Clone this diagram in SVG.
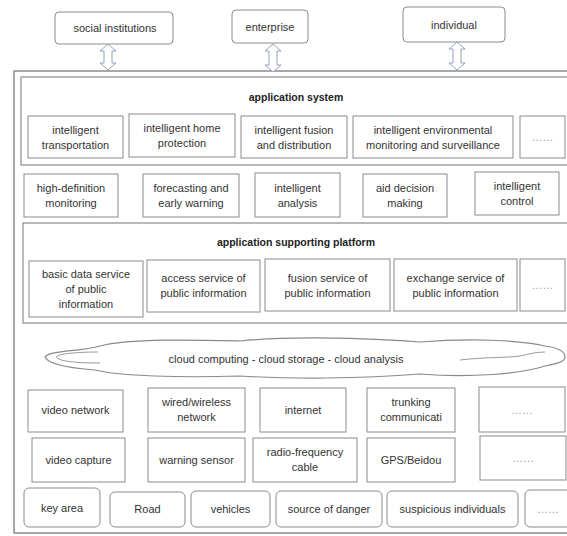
<svg xmlns="http://www.w3.org/2000/svg" width="567" height="536" viewBox="0 0 567 536">
<style>
  .bg { fill: #ffffff; }
  .box { fill: #ffffff; stroke: #8c8c8c; stroke-width: 1; }
  .rbox { fill: #ffffff; stroke: #8c8c8c; stroke-width: 1; }
  .frame { fill: none; stroke: #7a7a7a; stroke-width: 1.3; }
  .cont { fill: #ffffff; stroke: #8a8a8a; stroke-width: 1.2; }
  .arrow { fill: #ffffff; stroke: #8fa3bd; stroke-width: 1; stroke-linejoin: round; }
  .cloud { fill: #ffffff; stroke: #8a8a8a; stroke-width: 1.2; }
  .cloudline { fill: none; stroke: #9a9a9a; stroke-width: 1; }
  text { font-family: "Liberation Sans", Arial, sans-serif; font-size: 11px; fill: #333333; text-anchor: middle; }
  .title { font-weight: bold; font-size: 10.5px; fill: #222222; }
  .dots { fill: #9a9a9a; }
</style>
<rect class="bg" x="0" y="0" width="567" height="536"/>

<g id="outer-frame">
  <rect class="frame" x="14" y="71" width="600" height="462"/>
</g>

<g id="connectors">
  <path class="arrow" d="M108,44 L116,51 L112,51 L112,63 L116,63 L108,70 L100,63 L104,63 L104,51 L100,51 Z"/>
  <path class="arrow" d="M273,44 L281,51 L277,51 L277,65 L281,65 L273,72 L265,65 L269,65 L269,51 L265,51 Z"/>
  <path class="arrow" d="M457,42 L465,49 L461,49 L461,63 L465,63 L457,70 L449,63 L453,63 L453,49 L449,49 Z"/>
</g>

<g id="social-institutions">
  <rect class="rbox" x="55" y="12" width="118" height="32" rx="4"/>
  <text x="115" y="32">social institutions</text>
</g>
<g id="enterprise">
  <rect class="rbox" x="232" y="10" width="76" height="33" rx="4"/>
  <text x="270" y="31">enterprise</text>
</g>
<g id="individual">
  <rect class="rbox" x="403" y="7" width="102" height="35" rx="4"/>
  <text x="454" y="29">individual</text>
</g>

<g id="application-system">
  <rect class="cont" x="21" y="77" width="600" height="88"/>
  <text class="title" x="296" y="101">application system</text>
</g>
<g id="intelligent-transportation">
  <rect class="box" x="28" y="116" width="95" height="42"/>
  <text x="75.5" y="133.5">intelligent<tspan x="75.5" dy="15">transportation</tspan></text>
</g>
<g id="intelligent-home-protection">
  <rect class="box" x="129" y="114" width="106" height="43"/>
  <text x="182" y="132">intelligent home<tspan x="182" dy="15">protection</tspan></text>
</g>
<g id="intelligent-fusion">
  <rect class="box" x="241" y="116" width="106" height="42"/>
  <text x="294" y="133.5">intelligent fusion<tspan x="294" dy="15">and distribution</tspan></text>
</g>
<g id="intelligent-environmental">
  <rect class="box" x="353" y="116" width="160" height="42"/>
  <text x="433" y="133.5">intelligent environmental<tspan x="433" dy="15">monitoring and surveillance</tspan></text>
</g>
<g id="app-more">
  <rect class="box" x="520" y="116" width="45" height="42"/>
  <text class="dots" x="542.5" y="141">……</text>
</g>

<g id="high-definition-monitoring">
  <rect class="box" x="24" y="174" width="94" height="43"/>
  <text x="71" y="192">high-definition<tspan x="71" dy="15">monitoring</tspan></text>
</g>
<g id="forecasting">
  <rect class="box" x="143" y="174" width="96" height="43"/>
  <text x="191" y="192">forecasting and<tspan x="191" dy="15">early warning</tspan></text>
</g>
<g id="intelligent-analysis">
  <rect class="box" x="255" y="173" width="85" height="44"/>
  <text x="297.5" y="191.5">intelligent<tspan x="297.5" dy="15">analysis</tspan></text>
</g>
<g id="aid-decision-making">
  <rect class="box" x="363" y="174" width="84" height="43"/>
  <text x="405" y="192">aid decision<tspan x="405" dy="15">making</tspan></text>
</g>
<g id="intelligent-control">
  <rect class="box" x="475" y="172" width="84" height="43"/>
  <text x="517" y="190">intelligent<tspan x="517" dy="15">control</tspan></text>
</g>

<g id="application-supporting-platform">
  <rect class="cont" x="23" y="223" width="600" height="100"/>
  <text class="title" x="296" y="246">application supporting platform</text>
</g>
<g id="basic-data-service">
  <rect class="box" x="29" y="261" width="114" height="56"/>
  <text x="86" y="278">basic data service<tspan x="86" dy="15">of public</tspan><tspan x="86" dy="15">information</tspan></text>
</g>
<g id="access-service">
  <rect class="box" x="147" y="260" width="113" height="52"/>
  <text x="203.5" y="282">access service of<tspan x="203.5" dy="15">public information</tspan></text>
</g>
<g id="fusion-service">
  <rect class="box" x="265" y="259" width="125" height="52"/>
  <text x="327.5" y="281.5">fusion service of<tspan x="327.5" dy="15">public information</tspan></text>
</g>
<g id="exchange-service">
  <rect class="box" x="394" y="259" width="123" height="52"/>
  <text x="455.5" y="281.5">exchange service of<tspan x="455.5" dy="15">public information</tspan></text>
</g>
<g id="platform-more">
  <rect class="box" x="520" y="259" width="45" height="52"/>
  <text class="dots" x="542.5" y="289">……</text>
</g>

<g id="cloud">
  <path class="cloud" d="M45,357 C50,350 80,352 100,346 C130,338 200,340 240,341 C290,336 360,338 420,342 C470,338 520,340 545,346 C560,348 565,352 565,357 C565,362 555,364 545,366 C520,374 470,378 420,374 C360,379 290,379 240,376 C180,378 120,376 95,370 C70,368 48,364 45,357 Z"/>
  <path class="cloudline" d="M98,352 C75,352 58,354 56,357 C58,361 75,363 100,363"/>
  <path class="cloudline" d="M460,360 C485,357 505,358 520,356 C530,354 535,352 545,352"/>
  <text x="286" y="363">cloud computing - cloud storage - cloud analysis</text>
</g>

<g id="video-network">
  <rect class="box" x="28" y="390" width="95" height="42"/>
  <text x="75.5" y="414">video network</text>
</g>
<g id="wired-wireless-network">
  <rect class="box" x="148" y="388" width="97" height="44"/>
  <text x="196.5" y="406">wired/wireless<tspan x="196.5" dy="15">network</tspan></text>
</g>
<g id="internet">
  <rect class="box" x="260" y="388" width="86" height="44"/>
  <text x="303" y="414">internet</text>
</g>
<g id="trunking">
  <rect class="box" x="367" y="388" width="88" height="44"/>
  <text x="411" y="406">trunking<tspan x="411" dy="15">communicati</tspan></text>
</g>
<g id="network-more">
  <rect class="box" x="479" y="387" width="86" height="45"/>
  <text class="dots" x="522" y="414">……</text>
</g>

<g id="video-capture">
  <rect class="box" x="32" y="438" width="93" height="44"/>
  <text x="78.5" y="464">video capture</text>
</g>
<g id="warning-sensor">
  <rect class="box" x="148" y="438" width="97" height="44"/>
  <text x="196.5" y="464">warning sensor</text>
</g>
<g id="radio-frequency-cable">
  <rect class="box" x="253" y="438" width="104" height="44"/>
  <text x="305" y="456">radio-frequency<tspan x="305" dy="15">cable</tspan></text>
</g>
<g id="gps-beidou">
  <rect class="box" x="367" y="438" width="88" height="44"/>
  <text x="411" y="464">GPS/Beidou</text>
</g>
<g id="sensor-more">
  <rect class="box" x="480" y="436" width="86" height="44"/>
  <text class="dots" x="523" y="462">……</text>
</g>

<g id="key-area">
  <rect class="rbox" x="24" y="488" width="76" height="39" rx="5"/>
  <text x="62" y="512">key area</text>
</g>
<g id="road">
  <rect class="rbox" x="110" y="492" width="75" height="35" rx="5"/>
  <text x="147.5" y="513">Road</text>
</g>
<g id="vehicles">
  <rect class="rbox" x="191" y="491" width="79" height="36" rx="5"/>
  <text x="230.5" y="513">vehicles</text>
</g>
<g id="source-of-danger">
  <rect class="rbox" x="276" y="491" width="106" height="36" rx="5"/>
  <text x="329" y="513">source of danger</text>
</g>
<g id="suspicious-individuals">
  <rect class="rbox" x="387" y="491" width="131" height="36" rx="5"/>
  <text x="452.5" y="513">suspicious individuals</text>
</g>
<g id="object-more">
  <rect class="rbox" x="525" y="490" width="60" height="37" rx="5"/>
  <text class="dots" x="548" y="513">……</text>
</g>
</svg>
